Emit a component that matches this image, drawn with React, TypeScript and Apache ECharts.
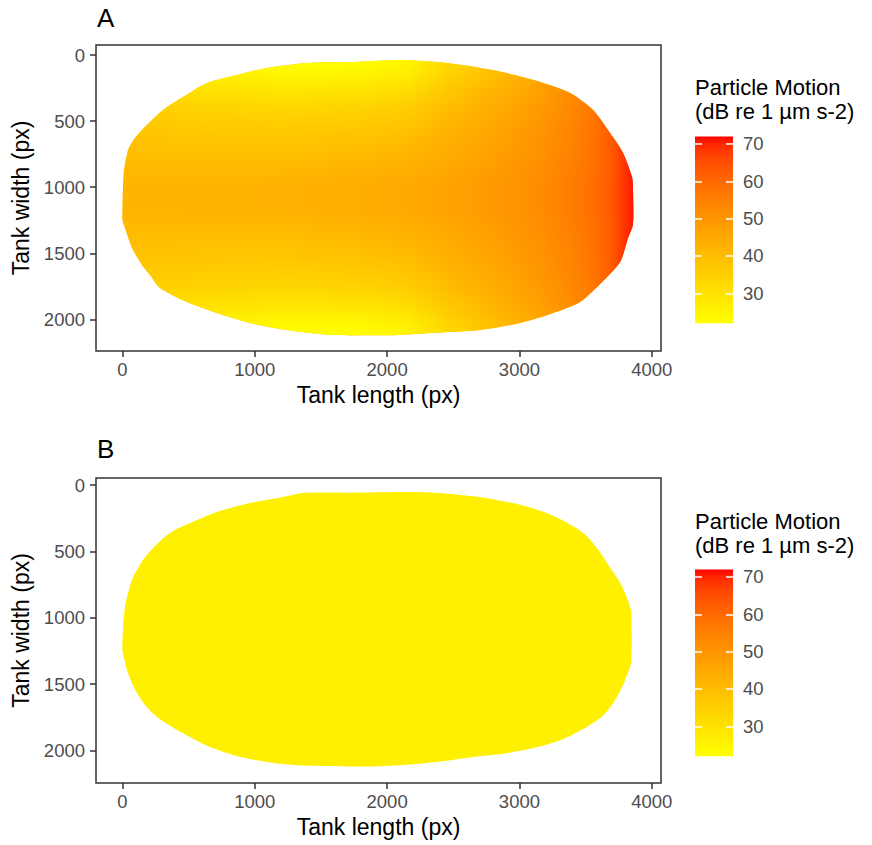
import React, { useEffect, useRef } from "react";
import * as echarts from "echarts";

// ---------- data ----------
const xTicks = [0, 1000, 2000, 3000, 4000];
const yTicks = [0, 500, 1000, 1500, 2000];
const legendTicks = [30, 40, 50, 60, 70];
const dbMin = 22;
const dbMax = 72;

// Panel A tank outline (clockwise, data units)
const tankA_X = [0, 3, 12, 42, 85, 147, 306, 457, 638, 865, 1092, 1395, 1795, 2098, 2453, 2831, 3156, 3383, 3557, 3685, 3783, 3851, 3858, 3858,
  3821, 3761, 3625, 3458, 3254, 3005, 2702, 2324, 2098, 1924, 1591, 1243, 964, 714, 487, 283, 208, 147, 72, 19, 0];
const tankA_Y = [1170, 1021, 870, 719, 640, 567, 416, 318, 212, 151, 98, 60, 50, 38, 60, 121, 204, 287, 416, 590, 741, 923, 1000, 1280,
  1384, 1566, 1717, 1868, 1952, 2027, 2080, 2103, 2118, 2120, 2118, 2080, 2027, 1952, 1868, 1762, 1664, 1588, 1460, 1309, 1250];

// Panel B tank outline
const tankB_X = [0, 0, 19, 72, 155, 231, 359, 563, 714, 964, 1213, 1364, 1708, 2208, 2431, 2681, 2958, 3181, 3347, 3486, 3597, 3681, 3764, 3819, 3845, 3845,
  3819, 3778, 3708, 3625, 3514, 3347, 3153, 2903, 2681, 2403, 2125, 1847, 1431, 1153, 875, 653, 458, 292, 181, 97, 42, 8];
const tankB_Y = [1240, 1167, 919, 715, 565, 474, 361, 264, 203, 136, 90, 60, 58, 53, 63, 88, 138, 201, 276, 364, 489, 615, 740, 866, 960, 1330,
  1418, 1518, 1644, 1744, 1819, 1907, 1970, 2020, 2045, 2083, 2108, 2120, 2115, 2095, 2045, 1970, 1870, 1769, 1669, 1543, 1418, 1292];

// Panel A: particle motion along the tank mid-line (dB)
const midlineX = [0, 600, 1200, 1800, 2150, 2450, 2830, 3150, 3380, 3550, 3700, 3858];
const midlineDB = [42, 42.2, 42.6, 44, 45, 46.5, 49, 52, 55.5, 58.5, 63.5, 71];
// how strongly the low-level surface zone reaches each tank section (0..1)
const surfaceReach = [0.7, 0.9, 1, 1, 0.9, 0.6, 0.38, 0.25, 0.18, 0.12, 0.05, 0];
// surface zone profile across the width (fraction of width) and its weight
const depthFrac = [0, 0.02, 0.05, 0.1, 0.17, 0.29, 0.4, 0.45, 0.55, 0.6, 0.71, 0.83, 0.9, 0.95, 0.98, 1];
const surfaceBlend = [1, 0.95, 0.88, 0.7, 0.48, 0.24, 0.08, 0, 0, 0.08, 0.24, 0.48, 0.7, 0.88, 0.95, 1];

// Panel B: uniform level (dB)
const panelB_DB = 26;

// ---------- colour scale (yellow -> red, Lab interpolation) ----------
function srgbToLin(c: number) {
  c /= 255;
  return c <= 0.04045 ? c / 12.92 : Math.pow((c + 0.055) / 1.055, 2.4);
}
function linToSrgb(c: number) {
  c = Math.max(0, Math.min(1, c));
  const v = c <= 0.0031308 ? 12.92 * c : 1.055 * Math.pow(c, 1 / 2.4) - 0.055;
  return Math.round(Math.max(0, Math.min(1, v)) * 255);
}
const XN = 0.95047, YN = 1, ZN = 1.08883;
function rgbToLab(rgb: number[]) {
  const R = srgbToLin(rgb[0]), G = srgbToLin(rgb[1]), B = srgbToLin(rgb[2]);
  const X = (0.4124 * R + 0.3576 * G + 0.1805 * B) / XN;
  const Y = (0.2126 * R + 0.7152 * G + 0.0722 * B) / YN;
  const Z = (0.0193 * R + 0.1192 * G + 0.9505 * B) / ZN;
  const f = (t: number) => (t > 0.008856 ? Math.cbrt(t) : 7.787 * t + 16 / 116);
  const fx = f(X), fy = f(Y), fz = f(Z);
  return [116 * fy - 16, 500 * (fx - fy), 200 * (fy - fz)];
}
function labToRgb(L: number, a: number, b: number) {
  const fy = (L + 16) / 116;
  const fx = fy + a / 500;
  const fz = fy - b / 200;
  const finv = (t: number) => (t * t * t > 0.008856 ? t * t * t : (t - 16 / 116) / 7.787);
  const X = XN * finv(fx), Y = YN * finv(fy), Z = ZN * finv(fz);
  const R = 3.2406 * X - 1.5372 * Y - 0.4986 * Z;
  const G = -0.9689 * X + 1.8758 * Y + 0.0415 * Z;
  const B = 0.0557 * X - 0.204 * Y + 1.057 * Z;
  return [linToSrgb(R), linToSrgb(G), linToSrgb(B)];
}
const LAB_LOW = rgbToLab([255, 255, 0]);
const LAB_HIGH = rgbToLab([255, 0, 0]);
function dbColor(v: number, alpha = 1) {
  const t = Math.max(0, Math.min(1, (v - dbMin) / (dbMax - dbMin)));
  const L = LAB_LOW[0] + (LAB_HIGH[0] - LAB_LOW[0]) * t;
  const a = LAB_LOW[1] + (LAB_HIGH[1] - LAB_LOW[1]) * t;
  const b = LAB_LOW[2] + (LAB_HIGH[2] - LAB_LOW[2]) * t;
  const [r, g, bb] = labToRgb(L, a, b);
  return `rgba(${r},${g},${bb},${alpha})`;
}

// ---------- layout ----------
const FONT = "'Liberation Sans', Arial, Helvetica, sans-serif";
const TICK_COLOR = "#333333";
const LABEL_COLOR = "#4D4D4D";
const OUTLINE_SMOOTH = 0.25;
const plainNumber = (v: number) => String(v);

function outline(api: any, xs: number[], ys: number[]) {
  return xs.map((x, i) => api.coord([x, ys[i]]));
}

function heatA(params: any, api: any) {
  if (params.dataIndex !== 0) return null;
  const pts = outline(api, tankA_X, tankA_Y);
  const minX = Math.min(...tankA_X), maxX = Math.max(...tankA_X);
  const offX = (x: number) => (x - minX) / (maxX - minX);
  const base = new echarts.graphic.LinearGradient(0, 0, 1, 0,
    midlineX.map((x, i) => ({ offset: offX(x), color: dbColor(midlineDB[i]) })));
  const surface = new echarts.graphic.LinearGradient(0, 0, 0, 1,
    depthFrac.map((d, i) => ({ offset: d, color: dbColor(dbMin, surfaceBlend[i]) })));
  const restore = new echarts.graphic.LinearGradient(0, 0, 1, 0,
    midlineX.map((x, i) => ({ offset: offX(x), color: dbColor(midlineDB[i], 1 - surfaceReach[i]) })));
  const shape = { points: pts, smooth: OUTLINE_SMOOTH };
  return {
    type: "group",
    children: [
      { type: "polygon", shape, style: { fill: base } },
      { type: "polygon", shape, style: { fill: surface } },
      { type: "polygon", shape, style: { fill: restore } },
    ],
  };
}

function heatB(params: any, api: any) {
  if (params.dataIndex !== 0) return null;
  const pts = outline(api, tankB_X, tankB_Y);
  return { type: "polygon", shape: { points: pts, smooth: OUTLINE_SMOOTH }, style: { fill: dbColor(panelB_DB) } };
}

function colorBar(params: any, api: any) {
  if (params.dataIndex !== 0) return null;
  const p1 = api.coord([0, dbMax]);
  const p2 = api.coord([1, dbMin]);
  const stops = [];
  for (let i = 0; i <= 25; i++) {
    const v = dbMax - ((dbMax - dbMin) * i) / 25;
    stops.push({ offset: i / 25, color: dbColor(v) });
  }
  return {
    type: "rect",
    shape: { x: p1[0], y: p1[1], width: p2[0] - p1[0], height: p2[1] - p1[1] },
    style: { fill: new echarts.graphic.LinearGradient(0, 0, 0, 1, stops) },
  };
}

const panels = [
  { top: 45, height: 306, yMin: -76, yMax: 2239, tag: "A", tagTop: 5, legendTop: 75, barTop: 136.5 },
  { top: 478, height: 305, yMin: -53, yMax: 2244, tag: "B", tagTop: 436, legendTop: 509, barTop: 569.5 },
];

function buildOption() {
  const grid: any[] = [];
  const xAxis: any[] = [];
  const yAxis: any[] = [];
  const title: any[] = [];

  panels.forEach((p, i) => {
    grid.push({ left: 96, top: p.top, width: 565, height: p.height, show: true, borderColor: "#333333", borderWidth: 1.5, backgroundColor: "transparent" });
    xAxis.push({
      gridIndex: i, type: "value", position: "bottom", min: -200, max: 4070,
      name: "Tank length (px)", nameLocation: "middle", nameGap: 32,
      nameTextStyle: { fontSize: 23, color: "#000", fontFamily: FONT },
      axisLine: { show: false, onZero: false },
      axisTick: { show: true, customValues: xTicks, length: 6, lineStyle: { color: TICK_COLOR, width: 1.5 } },
      axisLabel: { customValues: xTicks, formatter: plainNumber, fontSize: 18.5, color: LABEL_COLOR, margin: 9, fontFamily: FONT },
      splitLine: { show: false },
    });
    yAxis.push({
      gridIndex: i, type: "value", position: "left", inverse: true, min: p.yMin, max: p.yMax,
      name: "Tank width (px)", nameLocation: "middle", nameGap: 62,
      nameTextStyle: { fontSize: 23, color: "#000", fontFamily: FONT },
      axisLine: { show: false, onZero: false },
      axisTick: { show: true, customValues: yTicks, length: 6, lineStyle: { color: TICK_COLOR, width: 1.5 } },
      axisLabel: { customValues: yTicks, formatter: plainNumber, fontSize: 18.5, color: LABEL_COLOR, margin: 11, fontFamily: FONT },
      splitLine: { show: false },
    });
    title.push({ text: p.tag, left: 97, top: p.tagTop, padding: 0, textStyle: { fontSize: 26, fontWeight: "normal", color: "#000", fontFamily: FONT } });
    title.push({
      text: "Particle Motion\n(dB re 1 µm s-2)", left: 695, top: p.legendTop, padding: 0,
      textStyle: { fontSize: 22, lineHeight: 24, fontWeight: "normal", color: "#000", fontFamily: FONT },
    });
  });

  panels.forEach((p, i) => {
    grid.push({ left: 695, top: p.barTop, width: 38, height: 186.7, show: false });
    xAxis.push({ gridIndex: 2 + i, type: "value", min: 0, max: 1, show: false });
    yAxis.push({
      gridIndex: 2 + i, type: "value", position: "left", min: dbMin, max: dbMax, z: 5,
      axisLine: { show: false, onZero: false },
      axisTick: { show: true, inside: true, customValues: legendTicks, length: 7, lineStyle: { color: "#fff", width: 1.5 } },
      axisLabel: { show: false },
      splitLine: { show: false },
    });
    yAxis.push({
      gridIndex: 2 + i, type: "value", position: "right", min: dbMin, max: dbMax, z: 5,
      axisLine: { show: false, onZero: false },
      axisTick: { show: true, inside: true, customValues: legendTicks, length: 7, lineStyle: { color: "#fff", width: 1.5 } },
      axisLabel: { show: true, customValues: legendTicks, formatter: plainNumber, fontSize: 18.5, color: LABEL_COLOR, margin: 10, fontFamily: FONT },
      splitLine: { show: false },
    });
  });

  const series: any[] = [
    { type: "custom", xAxisIndex: 0, yAxisIndex: 0, data: [[0, 0]], renderItem: heatA, silent: true },
    { type: "custom", xAxisIndex: 1, yAxisIndex: 1, data: [[0, 0]], renderItem: heatB, silent: true },
    { type: "custom", xAxisIndex: 2, yAxisIndex: 2, data: [[0, 0]], renderItem: colorBar, silent: true },
    { type: "custom", xAxisIndex: 3, yAxisIndex: 4, data: [[0, 0]], renderItem: colorBar, silent: true },
  ];

  return {
    animation: false,
    backgroundColor: "#ffffff",
    textStyle: { fontFamily: FONT },
    title, grid, xAxis, yAxis, series,
  };
}

export default function App() {
  const ref = useRef<HTMLDivElement>(null);
  useEffect(() => {
    const chart = echarts.init(ref.current!, null, { renderer: "svg" });
    chart.setOption(buildOption() as any);
    return () => chart.dispose();
  }, []);
  return (
    <div
      ref={ref}
      style={{ position: "fixed", left: 0, top: 0, width: 872, height: 845, background: "#fff" }}
    />
  );
}
